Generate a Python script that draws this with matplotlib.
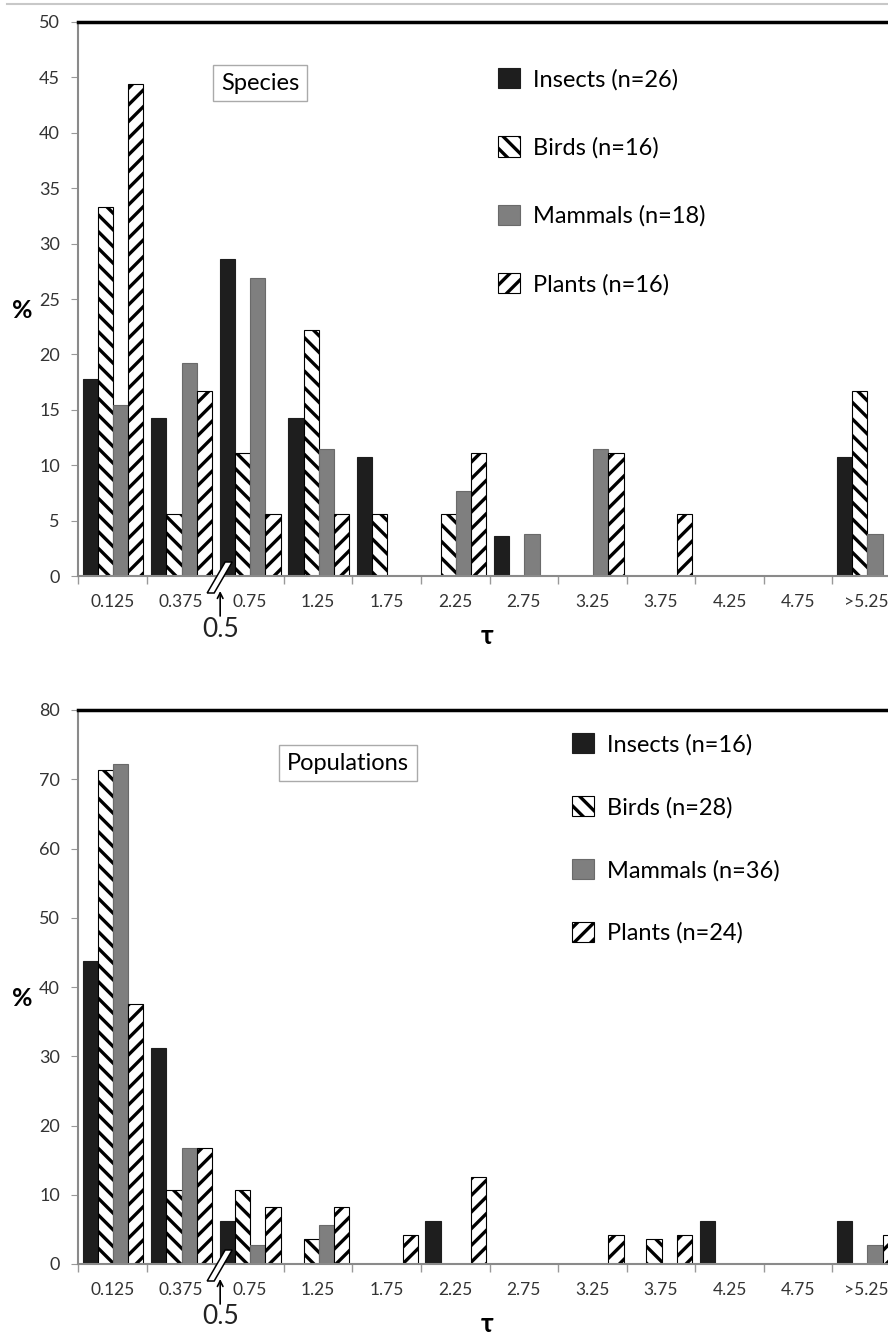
import matplotlib.pyplot as plt
import numpy as np
from matplotlib.patches import Polygon
from matplotlib.lines import Line2D

plt.rcParams['font.family'] = ['Lato', 'DejaVu Sans']
plt.rcParams['hatch.linewidth'] = 2.4

# data (% of cases per tau class)
tau_labels = ['0.125', '0.375', '0.75', '1.25', '1.75', '2.25', '2.75',
              '3.25', '3.75', '4.25', '4.75', '>5.25']

species_insects = [17.8, 14.3, 28.6, 14.3, 10.7, 0, 3.6, 0, 0, 0, 0, 10.7]
species_birds = [33.3, 5.6, 11.1, 22.2, 5.6, 5.6, 0, 0, 0, 0, 0, 16.7]
species_mammals = [15.4, 19.2, 26.9, 11.5, 0, 7.7, 3.8, 11.5, 0, 0, 0, 3.8]
species_plants = [44.4, 16.7, 5.6, 5.6, 0, 11.1, 0, 11.1, 5.6, 0, 0, 0]
species_names = ['Insects (n=26)', 'Birds (n=16)', 'Mammals (n=18)', 'Plants (n=16)']

pop_insects = [43.8, 31.2, 6.2, 0, 0, 6.2, 0, 0, 0, 6.2, 0, 6.2]
pop_birds = [71.4, 10.7, 10.7, 3.6, 0, 0, 0, 0, 3.6, 0, 0, 0]
pop_mammals = [72.2, 16.7, 2.8, 5.6, 0, 0, 0, 0, 0, 0, 0, 2.8]
pop_plants = [37.5, 16.7, 8.3, 8.3, 4.2, 12.5, 0, 4.2, 4.2, 0, 0, 4.2]
pop_names = ['Insects (n=16)', 'Birds (n=28)', 'Mammals (n=36)', 'Plants (n=24)']

W, H = 888, 1336
fig = plt.figure(figsize=(W / 100, H / 100), dpi=100)

# thin gray rule at the very top
fig.add_artist(Line2D([7 / W, 1], [1 - 4 / H, 1 - 4 / H], color='#c8c8c8', lw=1.5))

styles = [dict(color='#1e1e1e', edgecolor='#1e1e1e'),
          dict(color='white', edgecolor='black', hatch='\\\\'),
          dict(color='#7f7f7f', edgecolor='#6a6a6a'),
          dict(color='white', edgecolor='black', hatch='//')]


def panel(top_px, zero_px, series, names, ymax, ystep, title, title_xy, leg_xy):
    ax = fig.add_axes([78 / W, 1 - zero_px / H, 823 / W, (zero_px - top_px) / H])
    x = np.arange(len(tau_labels))
    bw = 0.222
    bars = []
    for k, (vals, st) in enumerate(zip(series, styles)):
        b = ax.bar(x + (k - 1.5) * bw + 0.01, vals, bw, linewidth=0.8, **st)
        bars.append(b)
    ax.set_xlim(-0.5, len(tau_labels) - 0.5)
    ax.set_ylim(0, ymax)
    ax.set_yticks(np.arange(0, ymax + 1, ystep))
    ax.set_xticks(x)
    ax.set_xticklabels(tau_labels)
    ax.set_xticks(np.arange(-0.5, len(tau_labels), 1), minor=True)
    ax.tick_params(axis='x', which='major', length=0, pad=13, labelsize=12.5, colors='#333333')
    ax.tick_params(axis='x', which='minor', length=6, color='#999999', width=1)
    ax.tick_params(axis='y', length=5, color='#999999', labelsize=13,
                   labelcolor='#333333', pad=8)
    for s in ['left', 'bottom']:
        ax.spines[s].set_color('#8a8a8a')
        ax.spines[s].set_linewidth(1.5)
    ax.spines['top'].set_color('black')
    ax.spines['top'].set_linewidth(2.5)
    ax.spines['right'].set_visible(False)

    ax.text(title_xy[0] / W, 1 - title_xy[1] / H, title, transform=fig.transFigure,
            ha='center', va='center', fontsize=17,
            bbox=dict(boxstyle='square,pad=0.33', fc='white', ec='#aaaaaa', lw=1))

    ax.legend(bars, names, loc='upper left', frameon=False,
              bbox_to_anchor=(leg_xy[0] / W, 1 - leg_xy[1] / H),
              bbox_transform=fig.transFigure, borderpad=0, borderaxespad=0,
              fontsize=17, handlelength=0.95, handleheight=0.95,
              handletextpad=0.55, labelspacing=leg_xy[2])

    # axis break marker and the 0.5 pointer
    ux = 1 / 68.6
    uy = 1 / (zero_px - top_px)
    bx = 1.5
    pts = [(bx - 8 * ux, -17 * uy), (bx - 1 * ux, -17 * uy),
           (bx + 17 * ux, 14 * uy), (bx + 10 * ux, 14 * uy)]
    ax.add_patch(Polygon(pts, closed=True, fc='white', ec='black', lw=1.1,
                         transform=ax.get_xaxis_transform(), clip_on=False, zorder=5))
    ax.annotate('', xy=(bx + 5 * ux, -15 * uy), xytext=(bx + 5 * ux, -40 * uy),
                xycoords=ax.get_xaxis_transform(), textcoords=ax.get_xaxis_transform(),
                arrowprops=dict(arrowstyle='->', color='black', lw=1.2,
                                shrinkA=0, shrinkB=0))
    ax.text(bx + 5 * ux, -53 * uy, '0.5', transform=ax.get_xaxis_transform(),
            ha='center', va='center', fontsize=19, color='#222222')

    ax.text(22 / W, 1 - ((top_px + zero_px) / 2 + 12) / H, '%', transform=fig.transFigure,
            ha='center', va='center', fontsize=18, fontweight='bold')
    ax.text(487 / W, 1 - (zero_px + 60) / H, 'τ', transform=fig.transFigure,
            ha='center', va='center', fontsize=19, fontweight='bold')
    return ax


panel(22, 576, [species_insects, species_birds, species_mammals, species_plants],
      species_names, 50, 5, 'Species', (260, 83), (498, 68, 1.95))
panel(710, 1264, [pop_insects, pop_birds, pop_mammals, pop_plants],
      pop_names, 80, 10, 'Populations', (348, 763), (572, 733, 1.72))

fig.savefig('out.png', dpi=100)
